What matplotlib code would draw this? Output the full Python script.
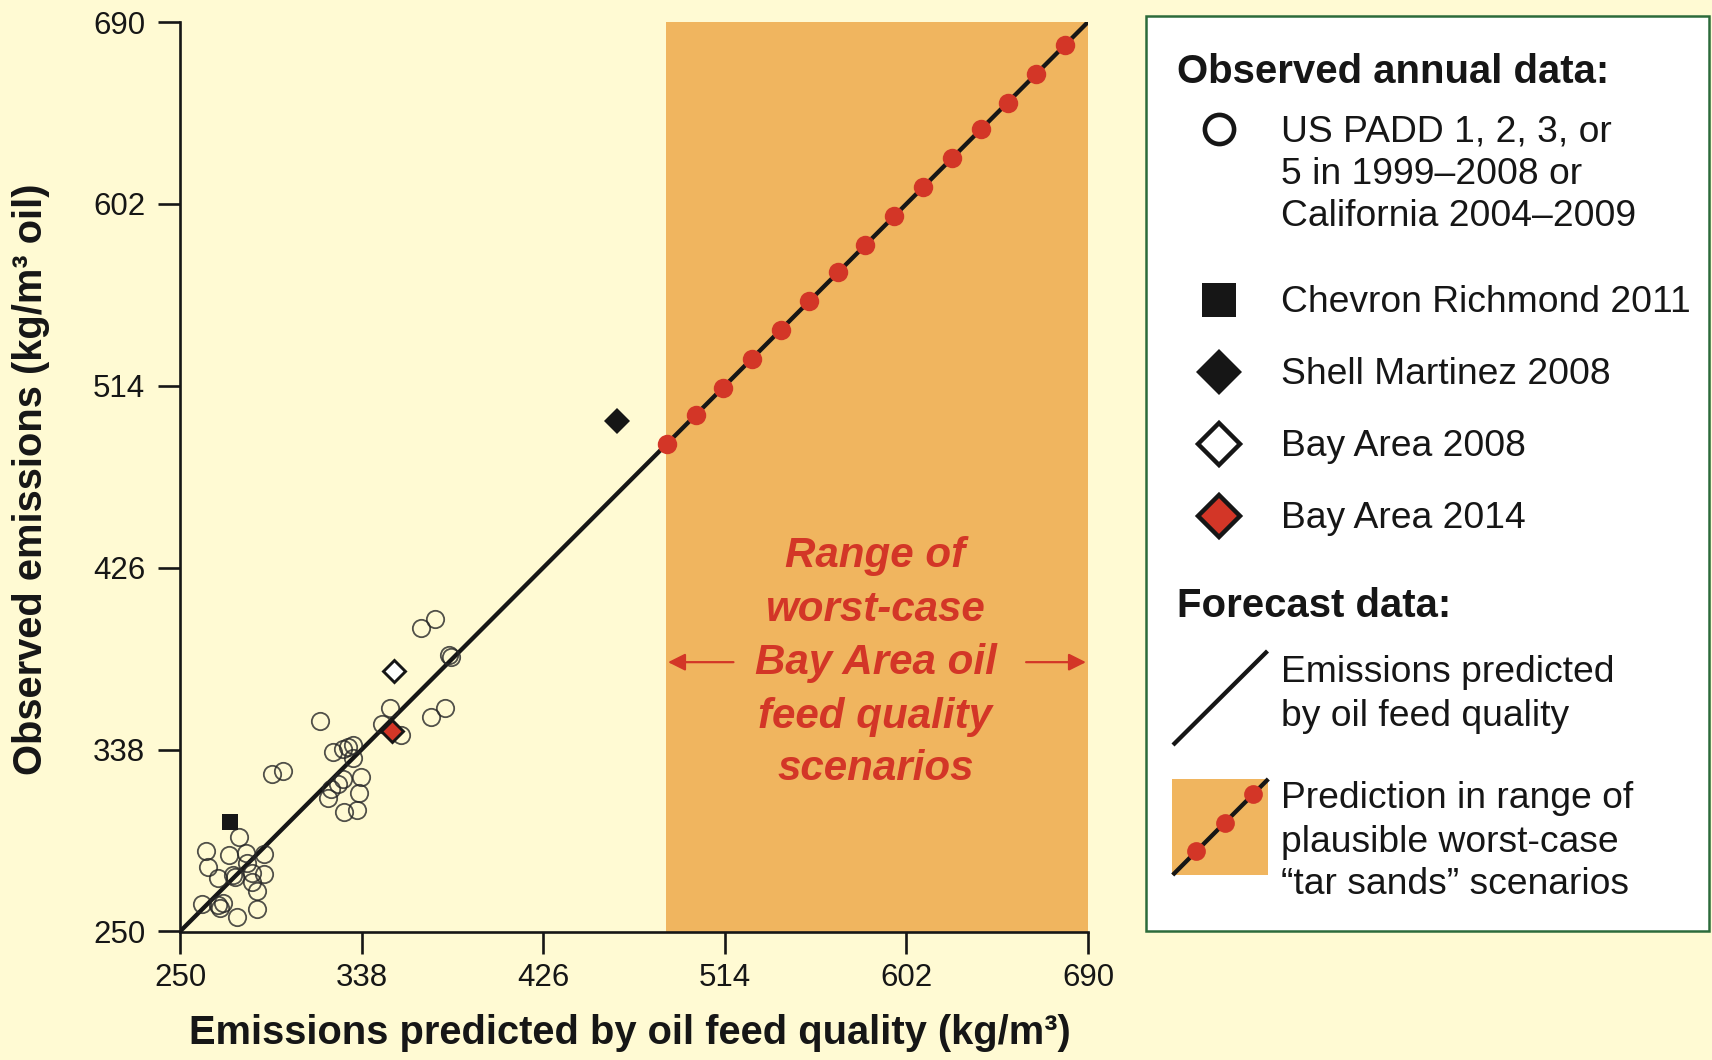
import matplotlib
matplotlib.use("Agg")
import matplotlib.pyplot as plt
from matplotlib.patches import Rectangle

# ---------------- data ----------------
ticks = [250, 338, 426, 514, 602, 690]

# Observed annual data: US PADD 1,2,3,5 (1999-2008) or California (2004-2009)
padd_pred = [373.5, 366.6, 380.5, 381.3, 351.7, 378.6, 371.8, 317.8, 347.7, 356.9,
             324.3, 329.1, 331.6, 334.0, 333.7, 299.7, 294.4, 337.5, 329.1, 326.7,
             323.0, 336.7, 321.9, 329.6, 335.6, 278.7, 262.6, 273.9, 282.0, 290.9,
             282.6, 263.7, 284.7, 290.9, 268.6, 275.5, 276.6, 284.7, 287.5, 260.8,
             268.6, 270.7, 269.4, 287.5, 277.5]
padd_obs = [401.0, 397.0, 383.8, 382.9, 358.0, 358.0, 353.9, 352.0, 350.4, 345.1,
            337.0, 338.1, 339.4, 340.2, 333.8, 327.8, 326.0, 324.9, 323.6, 321.4,
            318.8, 316.8, 314.4, 308.0, 308.8, 295.9, 289.1, 287.0, 287.8, 287.5,
            283.3, 281.0, 278.1, 277.8, 276.0, 277.3, 276.5, 274.1, 269.7, 263.3,
            262.8, 263.6, 261.2, 260.9, 256.9]

chevron_pred, chevron_obs = [274.2], [302.8]          # Chevron Richmond 2011
shell_pred, shell_obs = [461.9], [497.0]              # Shell Martinez 2008
bay08_pred, bay08_obs = [353.7], [376.2]              # Bay Area 2008
bay14_pred, bay14_obs = [352.6], [347.0]              # Bay Area 2014

# Forecast: emissions predicted by oil feed quality
line_pred = [250, 690]
line_obs = [250, 690]
# Worst-case tar sands scenarios (on the prediction line)
scen_pred = [486, 500, 513, 527, 541, 555, 569, 582, 596, 610, 624, 638, 651, 665, 679]
scen_obs = [486, 500, 513, 527, 541, 555, 569, 582, 596, 610, 624, 638, 651, 665, 679]
range_lo, range_hi = 485.5, 690

# ---------------- style ----------------
BG = "#FFFAD3"
ORANGE = "#F0B55F"
RED = "#D33627"
INK = "#161616"
GREEN = "#2C6B3B"
FONT = "Liberation Sans"
plt.rcParams["font.family"] = [FONT, "DejaVu Sans"]

fig = plt.figure(figsize=(17.12, 10.6), dpi=100, facecolor=BG)
ax = fig.add_axes([180 / 1712, 1 - 931.5 / 1060, 908 / 1712, 909.5 / 1060])
ax.set_facecolor(BG)
ax.set_xlim(250, 690)
ax.set_ylim(250, 690)

# shaded scenario range
ax.axvspan(range_lo, range_hi, ymin=0, ymax=1, color=ORANGE, lw=0, zorder=1)

# prediction line and scenario points
ax.plot(line_pred, line_obs, color=INK, lw=3.1, zorder=3, solid_capstyle="butt")
ax.plot(scen_pred, scen_obs, "o", ms=14, color=RED, mec=RED, mew=0, zorder=4)

# observed data
ax.plot(padd_pred, padd_obs, "o", ms=12.5, mfc="none", mec="#262626", mew=1.3,
        alpha=0.8, zorder=5)
ax.plot(chevron_pred, chevron_obs, "s", ms=12, color=INK, mew=0, zorder=6)
ax.plot(shell_pred, shell_obs, "D", ms=13, color=INK, mew=0, zorder=6)
ax.plot(bay08_pred, bay08_obs, "D", ms=11.5, mfc="white", mec=INK, mew=2.1, zorder=6)
ax.plot(bay14_pred, bay14_obs, "D", ms=11.5, mfc=RED, mec=INK, mew=2.1, zorder=6)

# annotation inside the range
ann_lines = ["Range of", "worst-case", "Bay Area oil", "feed quality", "scenarios"]
ann_y = [431.5, 405.7, 380.0, 354.0, 328.6]
for s, yy in zip(ann_lines, ann_y):
    ax.text(587.0, yy, s, ha="center", va="center", color=RED, fontsize=30.3,
            fontweight="bold", fontstyle="italic", zorder=7)
ax.annotate("", xy=(486.5, 380.3), xytext=(518.2, 380.3),
            arrowprops=dict(arrowstyle="-|>", color=RED, lw=1.6, mutation_scale=26,
                            shrinkA=0, shrinkB=0), zorder=7)
ax.annotate("", xy=(689.0, 380.3), xytext=(660.0, 380.3),
            arrowprops=dict(arrowstyle="-|>", color=RED, lw=1.6, mutation_scale=26,
                            shrinkA=0, shrinkB=0), zorder=7)

# axes styling
for side in ("top", "right"):
    ax.spines[side].set_visible(False)
for side in ("left", "bottom"):
    ax.spines[side].set_linewidth(1.9)
    ax.spines[side].set_color(INK)
ax.set_xticks(ticks)
ax.set_yticks(ticks)
ax.set_xticklabels([str(t) for t in ticks])
ax.set_yticklabels([str(t) for t in ticks])
ax.tick_params(axis="both", direction="out", length=16, width=1.9, color=INK,
               labelsize=22.5, labelcolor=INK)
ax.tick_params(axis="y", pad=9)
ax.tick_params(axis="x", pad=7)

ax.set_xlabel("Emissions predicted by oil feed quality (kg/m³)", fontsize=28.7,
              fontweight="bold", color=INK)
ax.set_ylabel("Observed emissions (kg/m³ oil)", fontsize=28.7, fontweight="bold",
              color=INK)
ax.xaxis.label.set_va("center")
ax.yaxis.label.set_va("center")
ax.xaxis.set_label_coords(0.496, -0.1116)
ax.yaxis.set_label_coords(-0.1645, 0.4975)

# ---------------- legend panel (pixel coordinates) ----------------
lax = fig.add_axes([0, 0, 1, 1], facecolor="none")
lax.set_xlim(0, 1712)
lax.set_ylim(1060, 0)
lax.axis("off")
lax.add_patch(Rectangle((1146, 16), 563, 915, facecolor="white", edgecolor=GREEN,
                        lw=1.8))

LFS = 26.8
HFS = 28.9
TX = 1281
lax.text(1177, 72, "Observed annual data:", fontsize=HFS, fontweight="bold",
         va="center", ha="left", color=INK)
lax.plot([1219.5], [129], "o", ms=21, mfc="none", mec=INK, mew=3.3)
for s, yy in zip(["US PADD 1, 2, 3, or", "5 in 1999–2008 or",
                  "California 2004–2009"], [132, 174.5, 217]):
    lax.text(TX, yy, s, fontsize=LFS, va="center", ha="left", color=INK)
lax.plot([1219.5], [300], "s", ms=24, color=INK, mew=0)
lax.text(TX, 302, "Chevron Richmond 2011", fontsize=LFS, va="center", ha="left", color=INK)
lax.plot([1219.5], [372], "D", ms=23, color=INK, mew=0)
lax.text(TX, 374, "Shell Martinez 2008", fontsize=LFS, va="center", ha="left", color=INK)
lax.plot([1219.5], [444], "D", ms=21, mfc="white", mec=INK, mew=3.2)
lax.text(TX, 446, "Bay Area 2008", fontsize=LFS, va="center", ha="left", color=INK)
lax.plot([1219.5], [516], "D", ms=21, mfc=RED, mec=INK, mew=3.2)
lax.text(TX, 518, "Bay Area 2014", fontsize=LFS, va="center", ha="left", color=INK)

lax.text(1177, 606, "Forecast data:", fontsize=HFS, fontweight="bold",
         va="center", ha="left", color=INK)
lax.plot([1173, 1267.5], [745, 651], color=INK, lw=3.1, solid_capstyle="butt")
lax.text(TX, 672, "Emissions predicted", fontsize=LFS, va="center", ha="left", color=INK)
lax.text(TX, 716, "by oil feed quality", fontsize=LFS, va="center", ha="left", color=INK)

lax.add_patch(Rectangle((1171.7, 779), 96.6, 96, facecolor=ORANGE, edgecolor="none"))
lax.plot([1172.7, 1268.3], [875, 779], color=INK, lw=3.1, solid_capstyle="butt")
lax.plot([1196, 1225, 1253.3], [850.7, 822.7, 794], "o", ms=13.5, color=RED, mew=0)
for s, yy in zip(["Prediction in range of", "plausible worst-case",
                  "“tar sands” scenarios"], [799, 842, 884]):
    lax.text(TX, yy, s, fontsize=LFS, va="center", ha="left", color=INK)

fig.savefig("out.png", dpi=100, facecolor=BG)
